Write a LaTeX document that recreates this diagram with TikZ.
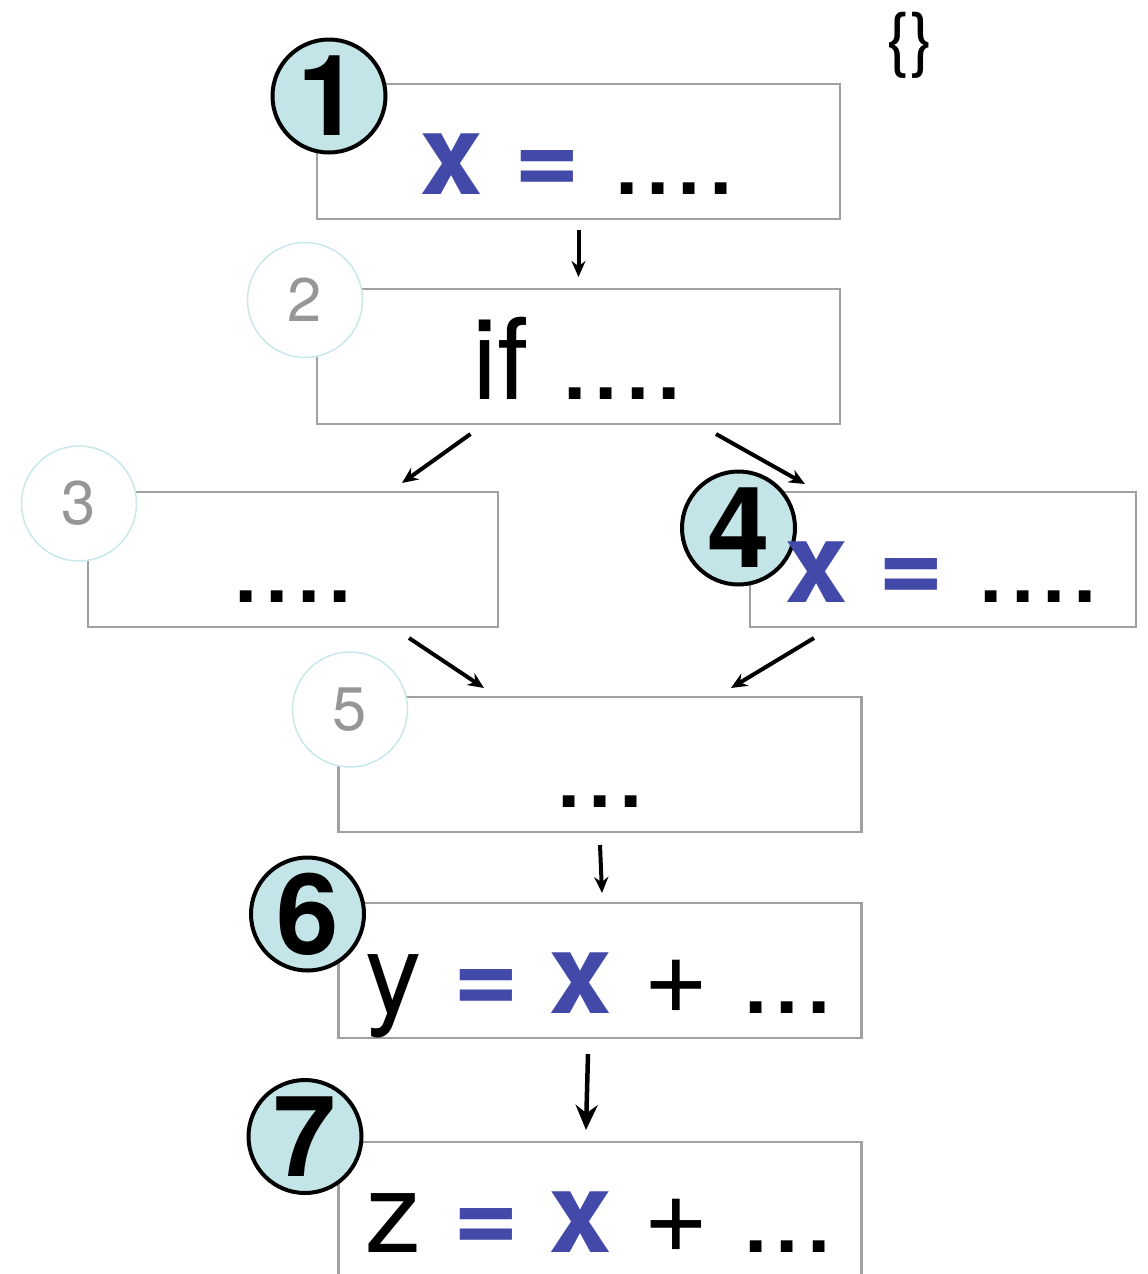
\documentclass[tikz,border=0pt]{standalone}
\usepackage{fontspec}
\setmainfont{TeX Gyre Heros}
\usepackage{xcolor}
\usepackage{tikz}
\usetikzlibrary{arrows.meta,positioning,backgrounds}
\definecolor{varblue}{RGB}{67,73,169}
\definecolor{ringfill}{RGB}{195,229,231}
\definecolor{ringline}{RGB}{200,232,234}
\definecolor{framegray}{RGB}{160,160,160}
\definecolor{numgray}{RGB}{150,150,150}
\newcommand{\kw}[1]{{\bfseries\color{varblue}#1}}

\begin{document}
\begin{tikzpicture}[
  block/.style={rectangle, outer sep=0pt, minimum height=2.7cm, minimum width=10.46cm, text height=1.7cm, text depth=0pt, font=\fontsize{64}{70}\selectfont},
  frame/.style={draw=framegray, line width=0.05cm},
  hot/.style={circle, draw=black, line width=0.08cm, fill=ringfill, minimum size=2.26cm, inner sep=0pt, font=\fontsize{64}{70}\selectfont\bfseries},
  cold/.style={circle, draw=ringline, line width=0.03cm, fill=white, minimum size=2.3cm, inner sep=0pt, text=numgray, font=\fontsize{35}{40}\selectfont},
  arrow/.style={-{Stealth[length=0.32cm,width=0.28cm]}, line width=0.08cm},
  bigarrow/.style={-{Stealth[length=0.5cm,width=0.44cm]}, line width=0.09cm}
]
\clip (0,0) rectangle (22.96,-25.48);

% Statements
\node[block] (b1) at (11.57,-3.03) {\kw{x} \kw{=} ....};
\node[block, below=1.4cm of b1] (b2) {if ....};
\node[block, below=1.36cm of b2, xshift=-5.71cm, minimum width=8.2cm] (b3) {....};
\node[block, below=1.36cm of b2, xshift=7.29cm, minimum width=7.72cm] (b4) {\kw{x} \kw{=} ....};
\node[block, below=1.4cm of b3, xshift=6.14cm] (b5) {...};
\node[block, below=1.42cm of b5] (b6) {y \kw{=} \kw{x} + ...};
\node[block, below=2.08cm of b6] (b7) {z \kw{=} \kw{x} + ...};

\node[font=\fontsize{40}{44}\selectfont] (braces) at (18.2,-0.9) {\{\}};

% Frames and numbers go under the statement text
\begin{scope}[on background layer]
  \foreach \b in {b1,b2,b3,b4,b5,b6,b7}
    \draw[frame] (\b.south west) rectangle (\b.north east);

  \node[hot] (c1) at ([shift={(0.24,-0.24)}]b1.north west) {1};
  \node[cold] (c2) at ([shift={(-0.24,-0.22)}]b2.north west) {2};
  \node[cold] (c3) at ([shift={(-0.18,-0.23)}]b3.north west) {3};
  \node[hot] (c4) at ([shift={(-0.23,-0.72)}]b4.north west) {4};
  \node[cold] (c5) at ([shift={(0.23,-0.25)}]b5.north west) {5};
  \node[hot] (c6) at ([shift={(-0.62,-0.22)}]b6.north west) {6};
  \node[hot] (c7) at ([shift={(-0.67,0.11)}]b7.north west) {7};
\end{scope}

% Control flow
\draw[arrow] ([yshift=-0.22cm]b1.south) -- ([yshift=0.24cm]b2.north);
\draw[arrow] ([xshift=-2.16cm,yshift=-0.2cm]b2.south) -- ([xshift=2.18cm,yshift=0.18cm]b3.north);
\draw[arrow] ([xshift=2.75cm,yshift=-0.2cm]b2.south) -- ([xshift=-2.76cm,yshift=0.16cm]b4.north);
\draw[arrow] ([xshift=2.32cm,yshift=-0.22cm]b3.south) -- ([xshift=-2.32cm,yshift=0.18cm]b5.north);
\draw[arrow] ([xshift=-2.58cm,yshift=-0.22cm]b4.south) -- ([xshift=2.62cm,yshift=0.18cm]b5.north);
\draw[arrow] ([yshift=-0.26cm]b5.south) -- ([xshift=0.04cm,yshift=0.2cm]b6.north);
\draw[bigarrow] ([xshift=-0.24cm,yshift=-0.32cm]b6.south) -- ([xshift=-0.28cm,yshift=0.24cm]b7.north);

\end{tikzpicture}
\end{document}
